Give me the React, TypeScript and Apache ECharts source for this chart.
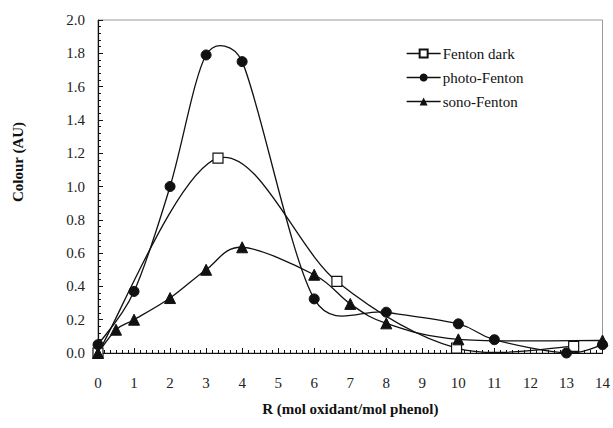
import React, { useEffect, useRef } from "react";
import * as echarts from "echarts";

const fentonDark: [number, number][] = [
  [0, 0.0], [3.33, 1.17], [6.63, 0.43], [9.95, 0.03], [13.2, 0.04],
];
const photoFenton: [number, number][] = [
  [0, 0.05], [1, 0.37], [2, 1.0], [3, 1.79], [4, 1.75], [6, 0.325],
  [8, 0.245], [10, 0.175], [11, 0.08], [13, 0.0], [14, 0.05],
];
const sonoFenton: [number, number][] = [
  [0, 0.0], [0.5, 0.14], [1, 0.2], [2, 0.33], [3, 0.5], [4, 0.635],
  [6, 0.47], [7, 0.295], [8, 0.178], [10, 0.082], [14, 0.075],
];
const seriesNames = ["Fenton dark", "photo-Fenton", "sono-Fenton"];
const xAxisTitle = "R (mol oxidant/mol phenol)";
const yAxisTitle = "Colour (AU)";

const INK = "#111";
const FONT = "Liberation Serif";

// Smoothed curve (spreadsheet-style Bezier spline) drawn through the axis scales
function curveSeries(name: string, pts: [number, number][]) {
  return {
    name,
    type: "custom",
    coordinateSystem: "cartesian2d",
    data: [[pts[0][0], pts[0][1]]],
    silent: true,
    clip: false,
    z: 2,
    renderItem: (params: any, api: any) => {
      const p = pts.map((d) => api.coord([d[0], d[1]]));
      const n = p.length;
      const dist = (a: number[], b: number[]) => Math.hypot(a[0] - b[0], a[1] - b[1]);
      let d = `M${p[0][0]},${p[0][1]}`;
      for (let i = 0; i < n - 1; i++) {
        const p0 = p[Math.max(i - 1, 0)];
        const p1 = p[i];
        const p2 = p[i + 1];
        const p3 = p[Math.min(i + 2, n - 1)];
        const seg = dist(p1, p2);
        const d02 = dist(p0, p2) || 1;
        const d13 = dist(p1, p3) || 1;
        const f1 = Math.min(1 / 6, seg / 2 / d02);
        const f2 = Math.min(1 / 6, seg / 2 / d13);
        const c1x = p1[0] + (p2[0] - p0[0]) * f1;
        const c1y = p1[1] + (p2[1] - p0[1]) * f1;
        const c2x = p2[0] - (p3[0] - p1[0]) * f2;
        const c2y = p2[1] - (p3[1] - p1[1]) * f2;
        d += ` C${c1x},${c1y} ${c2x},${c2y} ${p2[0]},${p2[1]}`;
      }
      return {
        type: "path",
        shape: { pathData: d },
        style: { fill: "none", stroke: INK, lineWidth: 1.3 },
      };
    },
  };
}

export default function App() {
  const ref = useRef<HTMLDivElement>(null);
  useEffect(() => {
    if (!ref.current) return;
    const chart = echarts.init(ref.current, undefined, { renderer: "svg" });
    const hiddenLine = { color: INK, width: 1.3, opacity: 0 };
    chart.setOption({
      animation: false,
      backgroundColor: "#fff",
      grid: {
        left: 98, right: 10, top: 20, bottom: 75,
        show: true, borderColor: "#999", borderWidth: 1,
      },
      legend: {
        orient: "vertical",
        left: 401,
        top: 41,
        itemWidth: 34,
        itemHeight: 10,
        itemGap: 9,
        lineStyle: { color: INK, width: 1.3, opacity: 1 },
        textStyle: { fontFamily: FONT, fontSize: 15, color: INK, padding: [0, 0, 0, -3] },
        data: seriesNames,
      },
      xAxis: {
        type: "value",
        min: 0, max: 14, interval: 1,
        axisLine: { show: true, lineStyle: { color: INK, width: 1.2 } },
        axisTick: { show: true, inside: true, length: 5, lineStyle: { color: INK } },
        minorTick: { show: true, splitNumber: 6, length: 3, lineStyle: { color: INK } },
        splitLine: { show: false },
        axisLabel: { fontFamily: FONT, fontSize: 15, color: "#222", margin: 22 },
        name: xAxisTitle,
        nameLocation: "middle",
        nameGap: 48,
        nameTextStyle: { fontFamily: FONT, fontSize: 15, fontWeight: "bold", color: INK },
      },
      yAxis: {
        type: "value",
        min: 0, max: 2, interval: 0.2,
        axisLine: { show: true, lineStyle: { color: INK, width: 1.2 } },
        axisTick: { show: true, inside: true, length: 5, lineStyle: { color: INK } },
        minorTick: { show: true, splitNumber: 5, length: 3, lineStyle: { color: INK } },
        splitLine: { show: false },
        axisLabel: {
          fontFamily: FONT, fontSize: 15, color: "#222", margin: 13,
          formatter: (v: number) => v.toFixed(1),
        },
      },
      graphic: [
        {
          type: "text",
          x: 18,
          y: 162,
          rotation: Math.PI / 2,
          style: {
            text: yAxisTitle,
            fontFamily: FONT,
            fontSize: 15,
            fontWeight: "bold",
            fill: INK,
            align: "center",
            verticalAlign: "middle",
          },
        },
      ],
      series: [
        curveSeries("curve-fd", fentonDark),
        curveSeries("curve-pf", photoFenton),
        curveSeries("curve-sf", sonoFenton),
        {
          name: seriesNames[0],
          type: "line",
          data: fentonDark,
          symbol: "rect",
          symbolSize: 10,
          lineStyle: hiddenLine,
          itemStyle: { color: "#fff", borderColor: INK, borderWidth: 1.2 },
          clip: false,
          z: 3,
        },
        {
          name: seriesNames[1],
          type: "line",
          data: photoFenton,
          symbol: "circle",
          symbolSize: 10,
          lineStyle: hiddenLine,
          itemStyle: { color: INK, borderColor: INK },
          clip: false,
          z: 4,
        },
        {
          name: seriesNames[2],
          type: "line",
          data: sonoFenton,
          symbol: "triangle",
          symbolSize: 11,
          lineStyle: hiddenLine,
          itemStyle: { color: INK, borderColor: INK },
          clip: false,
          z: 5,
        },
      ],
    });
    return () => chart.dispose();
  }, []);
  return (
    <div
      ref={ref}
      style={{ position: "absolute", left: 0, top: 0, width: 613, height: 428 }}
    />
  );
}
